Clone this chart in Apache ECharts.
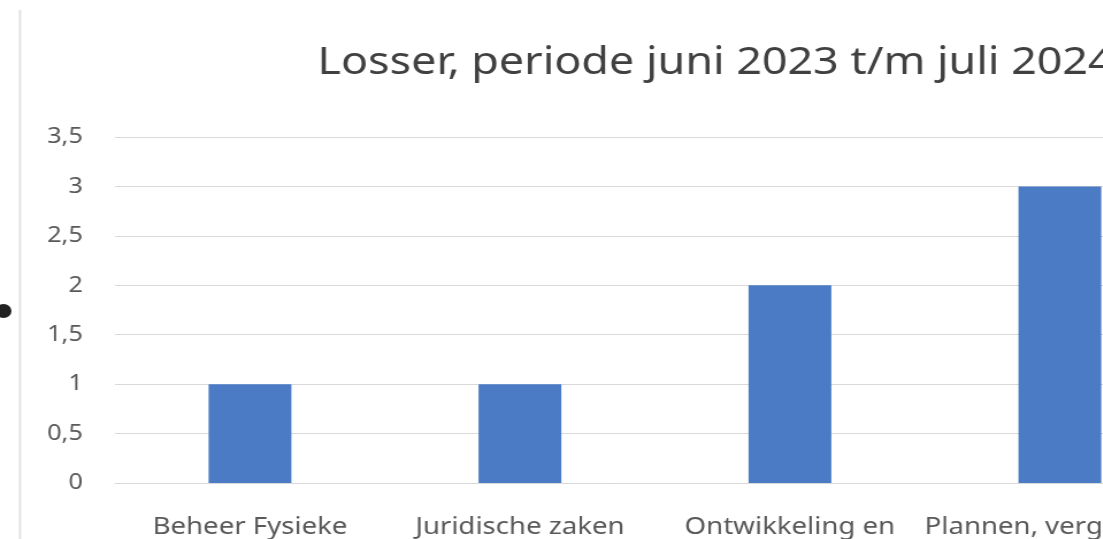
<!DOCTYPE html>
<html>
<head>
<meta charset="utf-8">
<script src="https://cdn.jsdelivr.net/npm/echarts@6/dist/echarts.min.js"></script>
<style>
  html, body { margin: 0; padding: 0; background: #ffffff; overflow: hidden; }
  #wrap { width: 1103px; height: 539px; overflow: hidden; }
  /* the chart is laid out narrow and widened horizontally */
  #chart { width: 959px; height: 539px; transform: scaleX(1.15); transform-origin: 0 0; }
</style>
</head>
<body>
<div id="wrap"><div id="chart"></div></div>
<script>
// Afdelingen (eerste regel van het label) en aantallen
const categories = ['Beheer Fysieke', 'Juridische zaken', 'Ontwikkeling en', 'Plannen, vergunning'];
const counts = [1, 1, 2, 3];
const titleText = 'Losser, periode juni 2023 t/m juli 2024';

const FONT = 'Noto Sans';
const chart = echarts.init(document.getElementById('chart'), null, { renderer: 'canvas' });

chart.setOption({
  backgroundColor: '#ffffff',
  animation: false,
  title: {
    text: titleText,
    left: 271,
    top: 38,
    textStyle: { fontFamily: FONT, fontSize: 39, fontWeight: 'normal', color: '#404040' }
  },
  grid: { left: 100, top: 137, width: 939, height: 346, outerBoundsMode: 'none' },
  xAxis: {
    type: 'category',
    data: categories,
    axisLine: { show: true, lineStyle: { color: '#d9d9d9', width: 1 } },
    axisTick: { show: false },
    axisLabel: {
      interval: 0,
      margin: 32,
      fontFamily: FONT,
      fontSize: 24,
      color: '#595959'
    }
  },
  yAxis: {
    type: 'value',
    min: 0,
    max: 3.5,
    interval: 0.5,
    axisLine: { show: false },
    axisTick: { show: false },
    splitLine: { lineStyle: { color: '#d9d9d9', width: 1 } },
    axisLabel: {
      margin: 28,
      fontFamily: FONT,
      fontSize: 22,
      color: '#595959',
      formatter: v => String(v).replace('.', ',')
    }
  },
  series: [{
    type: 'bar',
    data: counts,
    barWidth: 72,
    itemStyle: { color: '#4a7bc4' }
  }],
  graphic: [
    { type: 'rect', shape: { x: 16.5, y: 10, width: 1.8, height: 529 }, style: { fill: '#e0e0e0' } },
    { type: 'circle', shape: { cx: 3, cy: 311, r: 7 }, style: { fill: '#222222' } }
  ]
});
</script>
</body>
</html>
